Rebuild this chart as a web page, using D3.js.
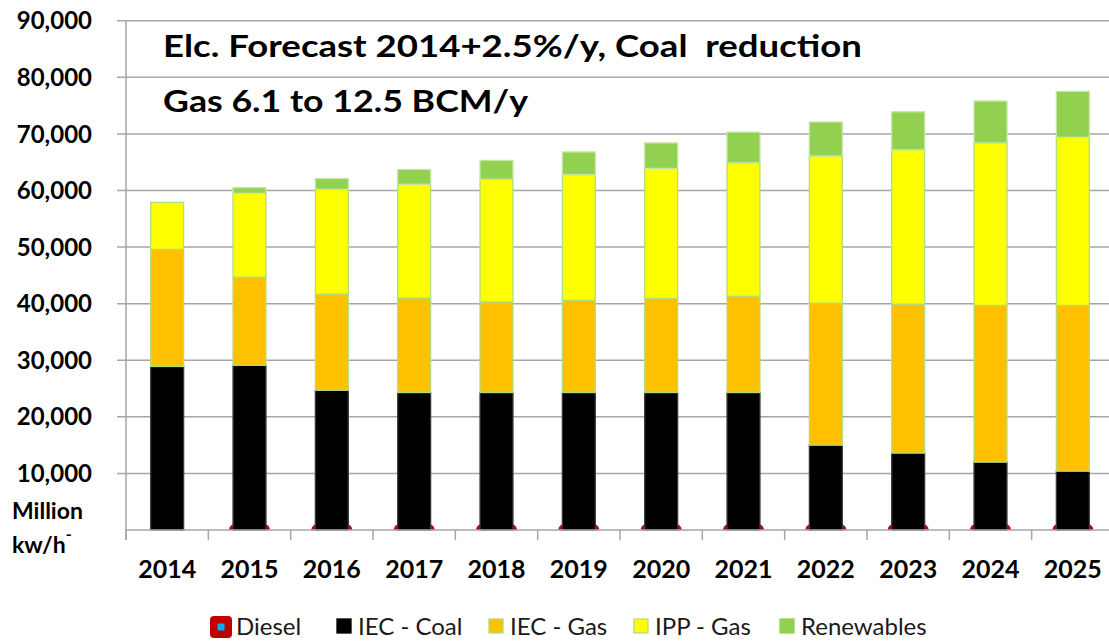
<!DOCTYPE html>
<html>
<head>
<meta charset="utf-8">
<script src="https://cdn.jsdelivr.net/npm/d3@7"></script>
<style>
  body { margin: 0; background: #fff; }
  svg text { font-family: Lato, "Liberation Sans", sans-serif; white-space: pre; }
</style>
</head>
<body>
<div id="chart"></div>
<script>
// values, million kWh per year
var years = ["2014", "2015", "2016", "2017", "2018", "2019", "2020", "2021", "2022", "2023", "2024", "2025"];
var diesel = [null, 0, 0, 0, 0, 0, 0, 0, 0, 0, 0, 0];
var iecCoal = [28900, 29100, 24700, 24300, 24300, 24300, 24300, 24300, 15000, 13600, 12000, 10400];
var iecGas = [20700, 15600, 17000, 16700, 16000, 16300, 16600, 17000, 25100, 26300, 27700, 29300];
var ippGas = [8300, 14800, 18500, 20100, 21700, 22200, 23000, 23600, 26000, 27300, 28700, 29700];
var renewables = [0, 1000, 1900, 2600, 3300, 4000, 4500, 5400, 6000, 6700, 7400, 8100];
var yTickValues = [10000, 20000, 30000, 40000, 50000, 60000, 70000, 80000, 90000];
var seriesNames = ["IEC - Coal", "IEC - Gas", "IPP - Gas", "Renewables"];
var titleLines = ["Elc. Forecast 2014+2.5%/y, Coal  reduction", "Gas 6.1 to 12.5 BCM/y"];

var width = 1109,
    height = 642,
    plotLeft = 126,
    plotRight = 1114,
    plotTop = 20.7,
    plotBottom = 530;

var fills = {"IEC - Coal": "#000000", "IEC - Gas": "#FFC000", "IPP - Gas": "#FFFF00", "Renewables": "#92D050"};
var strokes = {"IEC - Coal": "#3a3a3a", "IEC - Gas": "#b2de7c", "IPP - Gas": "#b2de7c", "Renewables": "#c4e6a0"};
var gridColor = "#a6a6a6";

var table = years.map(function(y, i) {
    return {year: y, "IEC - Coal": iecCoal[i], "IEC - Gas": iecGas[i], "IPP - Gas": ippGas[i], "Renewables": renewables[i]};
});

var svg = d3.select("#chart").append("svg")
    .attr("width", width)
    .attr("height", height);

var x = d3.scaleBand()
    .domain(years)
    .range([plotLeft, plotRight])
    .paddingInner(0.6)
    .paddingOuter(0.3);

var y = d3.scaleLinear()
    .domain([0, 90000])
    .range([plotBottom, plotTop]);

svg.append("clipPath").attr("id", "plot")
    .append("rect")
    .attr("x", plotLeft).attr("y", plotTop)
    .attr("width", plotRight - plotLeft).attr("height", plotBottom - plotTop);

// gridlines + y ticks
svg.append("g")
    .selectAll("line")
    .data(yTickValues)
    .enter().append("line")
    .attr("x1", plotLeft - 9).attr("x2", plotRight)
    .attr("y1", function(d) { return y(d); })
    .attr("y2", function(d) { return y(d); })
    .attr("stroke", gridColor)
    .attr("stroke-width", 1.5);

svg.append("g")
    .selectAll("text")
    .data(yTickValues)
    .enter().append("text")
    .attr("x", 92)
    .attr("y", function(d) { return y(d); })
    .attr("dy", "0.36em")
    .attr("text-anchor", "end")
    .attr("font-size", 24)
    .attr("font-weight", "bold")
    .attr("fill", "#000")
    .text(function(d) { return d3.format(",")(d); });

// diesel markers sit on the zero line, half hidden below it
svg.append("g")
    .attr("clip-path", "url(#plot)")
    .selectAll("rect")
    .data(years.filter(function(d, i) { return diesel[i] !== null; }))
    .enter().append("rect")
    .attr("x", function(d) { return x(d) + x.bandwidth() / 2 - 20.5; })
    .attr("y", function(d) { return y(diesel[years.indexOf(d)]) - 6; })
    .attr("width", 41)
    .attr("height", 12)
    .attr("rx", 6)
    .attr("fill", "#c00000");

var stacked = d3.stack().keys(seriesNames)(table);

var layer = svg.append("g")
    .selectAll("g")
    .data(stacked)
    .enter().append("g")
    .attr("fill", function(d) { return fills[d.key]; })
    .attr("stroke", function(d) { return strokes[d.key]; })
    .attr("stroke-width", 1.3);

layer.selectAll("rect")
    .data(function(d) { return d.filter(function(p) { return p[1] - p[0] > 0; }); })
    .enter().append("rect")
    .attr("x", function(d) { return x(d.data.year); })
    .attr("y", function(d) { return y(d[1]); })
    .attr("width", x.bandwidth())
    .attr("height", function(d) { return y(d[0]) - y(d[1]); });

// axes lines
svg.append("line")
    .attr("x1", plotLeft).attr("x2", plotLeft)
    .attr("y1", plotTop).attr("y2", plotBottom + 10)
    .attr("stroke", gridColor).attr("stroke-width", 1.5);

svg.append("line")
    .attr("x1", plotLeft).attr("x2", plotRight)
    .attr("y1", plotBottom).attr("y2", plotBottom)
    .attr("stroke", gridColor).attr("stroke-width", 1.5);

svg.append("g")
    .selectAll("line")
    .data(d3.range(years.length + 1))
    .enter().append("line")
    .attr("x1", function(i) { return plotLeft + i * x.step(); })
    .attr("x2", function(i) { return plotLeft + i * x.step(); })
    .attr("y1", plotBottom).attr("y2", plotBottom + 10)
    .attr("stroke", gridColor).attr("stroke-width", 1.5);

svg.append("g")
    .selectAll("text")
    .data(years)
    .enter().append("text")
    .attr("x", function(d) { return x(d) + x.bandwidth() / 2; })
    .attr("y", 578)
    .attr("text-anchor", "middle")
    .attr("font-size", 25)
    .attr("font-weight", "bold")
    .text(function(d) { return d; });

// unit label
svg.append("text")
    .attr("x", 12).attr("y", 519)
    .attr("font-size", 23).attr("font-weight", "bold")
    .text("Million");

var unit = svg.append("text")
    .attr("x", 12).attr("y", 553)
    .attr("font-size", 23).attr("font-weight", "bold")
    .text("kw/h");
unit.append("tspan")
    .attr("dy", -13)
    .attr("font-size", 16)
    .text("-");

// title
svg.append("g")
    .selectAll("text")
    .data(titleLines)
    .enter().append("text")
    .attr("x", 163)
    .attr("y", function(d, i) { return i === 0 ? 57 : 112; })
    .attr("font-size", 30)
    .attr("font-weight", "bold")
    .attr("textLength", function(d, i) { return i === 0 ? 699 : 365; })
    .attr("lengthAdjust", "spacingAndGlyphs")
    .text(function(d) { return d; });

// legend
var legendX = {"Diesel": 210, "IEC - Coal": 337, "IEC - Gas": 489, "IPP - Gas": 634, "Renewables": 780};
var legend = svg.append("g");

legend.append("rect")
    .attr("x", legendX["Diesel"]).attr("y", 616)
    .attr("width", 22).attr("height", 22)
    .attr("rx", 4)
    .attr("fill", "#c00000");
legend.append("rect")
    .attr("x", legendX["Diesel"] + 7.5).attr("y", 623.5)
    .attr("width", 7).attr("height", 7)
    .attr("fill", "#00b0f0");
legend.append("text")
    .attr("x", 236).attr("y", 635)
    .attr("font-size", 24)
    .attr("fill", "#1a1a1a")
    .text("Diesel");

var items = legend.selectAll("g.item")
    .data(seriesNames)
    .enter().append("g")
    .attr("class", "item");

items.append("rect")
    .attr("x", function(d) { return legendX[d]; })
    .attr("y", 619)
    .attr("width", 14).attr("height", 14)
    .attr("fill", function(d) { return fills[d]; })
    .attr("stroke", function(d) { return d === "IEC - Coal" || d === "Renewables" ? fills[d] : strokes[d]; })
    .attr("stroke-width", 1.3);

items.append("text")
    .attr("x", function(d) { return legendX[d] + 21; })
    .attr("y", 635)
    .attr("font-size", 24)
    .attr("fill", "#1a1a1a")
    .text(function(d) { return d; });
</script>
</body>
</html>
